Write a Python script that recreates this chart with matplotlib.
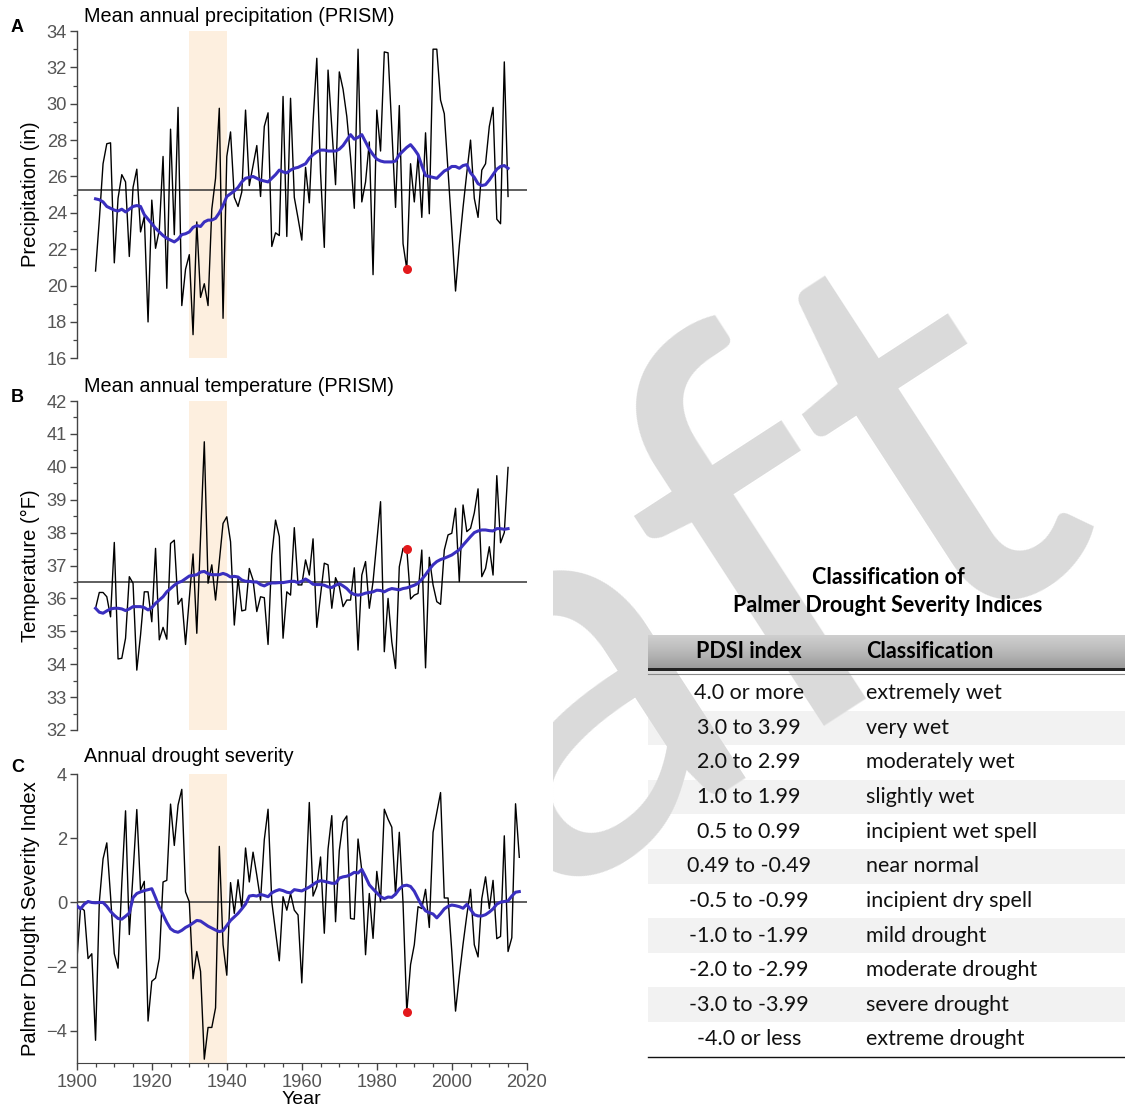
import numpy as np
import matplotlib
matplotlib.use("Agg")
import matplotlib.pyplot as plt
from matplotlib.ticker import MultipleLocator
from matplotlib.patches import Rectangle

# ---------------------------------------------------------------- data
precip_start = 1905
precip = [20.8, 23.6, 26.7, 27.8, 27.85, 21.25, 24.8, 26.1, 25.7, 21.6,
          25.4, 26.4, 22.95, 23.8, 18.0, 24.7, 22.05, 23.05, 27.1, 19.85,
          28.6, 22.8, 29.8, 18.9, 20.9, 21.7, 17.3, 23.5, 19.35, 20.1,
          18.9, 24.2, 25.9, 29.75, 18.2, 27.1, 28.45, 24.85, 24.35, 25.15,
          29.65, 25.5, 26.6, 27.7, 24.9, 28.75, 29.5, 22.15, 22.9, 22.75,
          30.4, 22.7, 30.3, 24.85, 23.7, 22.5, 26.5, 24.55, 29.0, 32.5,
          26.2, 22.1, 31.85, 28.7, 25.55, 31.75, 30.8, 29.3, 27.05, 24.25,
          33.0, 24.6, 25.7, 27.9, 20.6, 29.65, 27.4, 32.85, 32.8, 28.6,
          24.3, 29.9, 22.3, 20.9, 26.7, 24.6, 27.1, 23.75, 28.4, 23.95,
          33.0, 33.0, 30.2, 29.45, 26.3, 23.1, 19.7, 22.2, 24.3, 26.2,
          28.0, 24.8, 23.75, 26.35, 26.7, 28.75, 29.8, 23.65, 23.4, 32.3,
          24.9]
precip_smooth = [24.77, 24.72, 24.6, 24.35, 24.25, 24.15, 24.1, 24.2, 24.05, 24.2,
                 24.35, 24.4, 24.35, 23.9, 23.65, 23.4, 23.15, 22.95, 22.75, 22.6,
                 22.5, 22.4, 22.55, 22.8, 22.85, 22.95, 23.2, 23.3, 23.25, 23.5,
                 23.6, 23.6, 23.7, 24.0, 24.4, 24.9, 25.05, 25.2, 25.4, 25.7,
                 25.9, 25.95, 26.0, 25.9, 25.8, 25.75, 25.7, 25.9, 26.1, 26.35,
                 26.25, 26.2, 26.35, 26.45, 26.5, 26.6, 26.7, 27.0, 27.2, 27.35,
                 27.45, 27.45, 27.4, 27.4, 27.4, 27.5, 27.7, 28.0, 28.3, 28.05,
                 28.15, 28.3, 27.9, 27.5, 27.2, 26.95, 26.85, 26.8, 26.8, 26.8,
                 26.85, 27.2, 27.4, 27.6, 27.75, 27.5, 27.2, 26.6, 26.05, 26.0,
                 25.95, 25.9, 26.1, 26.3, 26.4, 26.55, 26.55, 26.45, 26.6, 26.65,
                 26.2, 25.95, 25.6, 25.5, 25.55, 25.8, 26.1, 26.4, 26.55, 26.6,
                 26.45]
precip_mean = 25.25

temp_start = 1905
temp = [35.7, 36.18, 36.18, 36.05, 35.44, 37.7, 34.16, 34.18, 34.79, 36.66,
        36.46, 33.82, 34.89, 36.2, 36.2, 35.29, 37.52, 34.74, 35.12, 34.76,
        37.67, 37.77, 35.82, 36.0, 34.6, 36.0, 37.35, 34.94, 37.85, 40.76,
        36.46, 37.02, 35.95, 37.12, 38.28, 38.48, 37.72, 35.19, 36.63, 35.62,
        35.65, 36.91, 36.56, 35.6, 36.05, 36.02, 34.6, 37.32, 38.38, 37.88,
        34.79, 36.2, 36.1, 38.15, 36.41, 36.41, 37.17, 36.71, 37.81, 35.12,
        36.1, 37.07, 37.02, 35.7, 36.63, 36.36, 35.75, 35.95, 35.95, 36.93,
        34.43, 36.71, 37.12, 35.7, 36.51, 37.72, 38.94, 34.38, 36.0, 34.68,
        33.87, 36.96, 37.52, 37.5, 35.98, 36.1, 36.15, 37.47, 33.89, 37.25,
        36.41, 35.9, 35.82, 37.47, 37.93, 37.98, 38.74, 36.51, 38.84, 38.03,
        38.13, 38.6, 39.33, 36.66, 36.91, 37.57, 36.71, 39.73, 37.69, 38.0,
        39.98]
temp_smooth = [35.7, 35.58, 35.55, 35.62, 35.68, 35.7, 35.7, 35.68, 35.63, 35.68,
               35.75, 35.75, 35.75, 35.72, 35.65, 35.72, 35.85, 35.95, 36.05, 36.2,
               36.3, 36.4, 36.48, 36.52, 36.6, 36.68, 36.7, 36.72, 36.8, 36.82,
               36.75, 36.72, 36.72, 36.72, 36.76, 36.72, 36.65, 36.67, 36.65, 36.56,
               36.52, 36.52, 36.5, 36.5, 36.42, 36.38, 36.44, 36.47, 36.47, 36.48,
               36.48, 36.5, 36.52, 36.52, 36.48, 36.52, 36.59, 36.52, 36.43, 36.42,
               36.42, 36.4, 36.35, 36.33, 36.4, 36.45, 36.38, 36.3, 36.18, 36.12,
               36.1, 36.12, 36.16, 36.18, 36.2, 36.25, 36.24, 36.2, 36.26, 36.3,
               36.28, 36.26, 36.3, 36.32, 36.36, 36.4, 36.46, 36.58, 36.72, 36.88,
               37.02, 37.12, 37.18, 37.22, 37.27, 37.32, 37.4, 37.48, 37.62, 37.75,
               37.88, 38.0, 38.05, 38.08, 38.08, 38.06, 38.05, 38.12, 38.12, 38.1,
               38.12]
temp_mean = 36.5

pdsi_start = 1900
pdsi = [-1.85, -0.15, -0.25, -1.75, -1.6, -4.3, 0.0, 1.36, 1.86, 0.2,
        -1.6, -2.05, 0.6, 2.86, -1.0, 0.9, 2.9, 0.38, 0.66, -3.7,
        -2.46, -2.36, -1.74, 0.64, 0.69, 3.07, 1.78, 3.04, 3.53, 0.33,
        0.02, -2.38, -1.53, -2.15, -4.89, -3.9, -3.9, -3.29, 1.75, -1.32,
        -2.27, 0.62, -0.34, 0.71, -0.2, 1.7, 0.64, 1.57, 0.85, 0.07,
        1.96, 2.91, 0.02, -0.91, -1.82, 0.18, -0.24, 0.28, -0.24, -0.39,
        -2.51, 0.3, 3.12, 0.2, 0.5, 1.42, -0.96, 1.67, 2.71, -0.6,
        1.62, 2.52, 2.7, -0.5, -0.52, 1.98, 1.0, -1.63, 0.28, -1.12,
        0.97, 0.02, 2.91, 2.6, 2.35, 0.23, 2.19, -0.03, -3.42, -1.94,
        -1.32, -0.13, -0.19, 0.41, -0.78, 2.19, 2.81, 3.43, 0.14, 0.14,
        -1.53, -3.39, -2.3, -1.3, -0.4, 0.41, -1.32, -1.7, 0.12, 0.8,
        -0.19, 0.69, -1.13, -1.06, 2.08, -1.53, -1.1, 3.08, 1.41]
pdsi_smooth = [-0.1, -0.2, -0.05, 0.03, 0.0, -0.01, 0.0, 0.0, -0.12, -0.28,
               -0.4, -0.5, -0.52, -0.43, -0.33, 0.15, 0.28, 0.33, 0.37, 0.4,
               0.43, 0.15, -0.15, -0.38, -0.62, -0.82, -0.9, -0.93, -0.87, -0.78,
               -0.72, -0.64, -0.56, -0.58, -0.66, -0.74, -0.8, -0.86, -0.91, -0.88,
               -0.72, -0.56, -0.45, -0.34, -0.2, -0.05, 0.2, 0.22, 0.2, 0.25,
               0.22, 0.18, 0.3, 0.36, 0.4, 0.37, 0.32, 0.3, 0.4, 0.38,
               0.36, 0.42, 0.48, 0.56, 0.64, 0.68, 0.66, 0.63, 0.6, 0.6,
               0.76, 0.8, 0.82, 0.87, 0.94, 0.92, 1.03, 0.8, 0.55, 0.42,
               0.3, 0.18, 0.12, 0.17, 0.16, 0.26, 0.42, 0.52, 0.54, 0.5,
               0.35, 0.12, -0.1, -0.26, -0.32, -0.36, -0.48, -0.35, -0.2, -0.12,
               -0.08, -0.1, -0.13, -0.18, -0.06, -0.22, -0.38, -0.42, -0.42, -0.38,
               -0.3, -0.2, -0.05, 0.01, 0.03, 0.05, 0.2, 0.32, 0.34]
pdsi_ref = 0.0

dust_bowl = (1930, 1940)
highlight_year = 1988

table_title = ["Classification of", "Palmer Drought Severity Indices"]
table_header = ["PDSI index", "Classification"]
pdsi_ranges = ["4.0 or more", "3.0 to 3.99", "2.0 to 2.99", "1.0 to 1.99",
               "0.5 to 0.99", "0.49 to -0.49", "-0.5 to -0.99", "-1.0 to -1.99",
               "-2.0 to -2.99", "-3.0 to -3.99", "-4.0 or less"]
pdsi_classes = ["extremely wet", "very wet", "moderately wet", "slightly wet",
                "incipient wet spell", "near normal", "incipient dry spell",
                "mild drought", "moderate drought", "severe drought",
                "extreme drought"]
watermark = "aft"

# ---------------------------------------------------------------- figure
W, H = 1125, 1112
fig = plt.figure(figsize=(W / 100, H / 100), dpi=100)
fig.patch.set_facecolor("white")
plt.rcParams["font.family"] = ["Liberation Sans", "DejaVu Sans"]

TICK_GRAY = "#555555"
SPINE = "#444444"
BLUE = "#3a2fbf"
TICK_FS = 13.2


def fx(x):
    return x / W


def fy(y):
    return 1 - y / H


def box(left, top, right, bottom):
    return [fx(left), fy(bottom), fx(right) - fx(left), fy(top) - fy(bottom)]


# background layer in pixel coordinates (watermark + table)
ov = fig.add_axes([0, 0, 1, 1])
ov.set_xlim(0, W)
ov.set_ylim(H, 0)
ov.axis("off")

ov.text(1108, 530, watermark, rotation=33, rotation_mode="anchor",
        ha="right", va="baseline", fontsize=405, family=["Lato", "DejaVu Sans"],
        color="#dadada", zorder=2.5)
# the chart block sits on an opaque white card
ov.add_patch(Rectangle((0, 0), 553, H, color="white", lw=0, zorder=2.7))

AX_L, AX_R = 76.8, 526.8
axA = fig.add_axes(box(AX_L, 31.0, AX_R, 358.3))
axB = fig.add_axes(box(AX_L, 401.0, AX_R, 730.0))
axC = fig.add_axes(box(AX_L, 774.3, AX_R, 1062.7))


def draw_panel(ax, start, values, smooth, ref, ylim, major, minor):
    yrs = np.arange(start, start + len(values))
    yrs_s = np.arange(start, start + len(smooth))
    ax.axvspan(*dust_bowl, color="#fdefdf", lw=0, zorder=0)
    ax.axhline(ref, color="#333333", lw=1.1, zorder=1)
    ax.plot(yrs, values, color="black", lw=1.0, zorder=2)
    ax.plot(yrs_s, smooth, color=BLUE, lw=2.2, zorder=3,
            solid_joinstyle="round")
    v = values[highlight_year - start]
    ax.plot([highlight_year], [v], "o", color="#e3191c", ms=6.5, mec="none",
            zorder=4)
    ax.set_xlim(1900, 2020)
    ax.set_ylim(*ylim)
    ax.yaxis.set_major_locator(MultipleLocator(major))
    if minor:
        ax.yaxis.set_minor_locator(MultipleLocator(minor))
    for s in ("top", "right"):
        ax.spines[s].set_visible(False)
    ax.spines["left"].set_color(SPINE)
    ax.spines["left"].set_linewidth(1.0)
    ax.tick_params(axis="y", which="major", length=5, width=1, color=SPINE,
                   labelcolor=TICK_GRAY, labelsize=TICK_FS, pad=2)
    ax.tick_params(axis="y", which="minor", length=3, width=0.9, color=SPINE)
    ax.set_facecolor("none")


draw_panel(axA, precip_start, precip, precip_smooth, precip_mean,
           (16, 34), 2, 1)
draw_panel(axB, temp_start, temp, temp_smooth, temp_mean, (32, 42), 1, 0.5)
draw_panel(axC, pdsi_start, pdsi, pdsi_smooth, pdsi_ref, (-5, 4), 2, None)
axC.set_yticks([-4, -2, 0, 2, 4])
axC.set_yticklabels(["\u22124", "\u22122", "0", "2", "4"])

for ax in (axA, axB):
    ax.spines["bottom"].set_visible(False)
    ax.set_xticks([])

axC.spines["bottom"].set_color(SPINE)
axC.xaxis.set_major_locator(MultipleLocator(20))
axC.xaxis.set_minor_locator(MultipleLocator(5))
axC.tick_params(axis="x", which="major", length=5, width=1, color=SPINE,
                labelcolor=TICK_GRAY, labelsize=TICK_FS, pad=3)
axC.tick_params(axis="x", which="minor", length=3, width=0.9, color=SPINE)
axC.set_xlabel("Year", fontsize=14, labelpad=0)

ylabels = [(axA, "Precipitation (in)"), (axB, "Temperature (\u00b0F)"),
           (axC, "Palmer Drought Severity Index")]
for ax, lab in ylabels:
    ax.set_ylabel(lab, fontsize=14.5)
    ax.yaxis.set_label_coords((40 - AX_L) / (AX_R - AX_L), 0.5)

titles = [("A", "Mean annual precipitation (PRISM)", 28, 16),
          ("B", "Mean annual temperature (PRISM)", 397, 386),
          ("C", "Annual drought severity", 767, 757)]
for letter, title, ly, ty in titles:
    fig.text(fx(11), fy(ly), letter, fontsize=13, fontweight="bold",
             va="center", ha="left")
    fig.text(fx(84), fy(ty), title, fontsize=14.3, va="center", ha="left")

# ---------------------------------------------------------------- table
T_L, T_R = 648, 1125
HEAD_TOP, HEAD_BOT = 635, 668
ROW0, ROW_H = 676, 34.6
COL1_C, COL2_L = 749, 866
TFONT = ["Lato", "DejaVu Sans"]

for i in range(len(pdsi_ranges)):
    top = ROW0 + i * ROW_H
    if i % 2 == 1:
        ov.add_patch(Rectangle((T_L, top), T_R - T_L, ROW_H,
                               color="#f2f2f2", lw=0, zorder=2))
    yc = top + ROW_H / 2
    ov.text(COL1_C, yc, pdsi_ranges[i], ha="center", va="center",
            fontsize=15.5, family=TFONT, color="#111111", zorder=5)
    ov.text(COL2_L, yc, pdsi_classes[i], ha="left", va="center",
            fontsize=15.5, family=TFONT, color="#111111", zorder=5)

grad = np.linspace(0, 1, 50).reshape(-1, 1)
ov.imshow(grad, extent=(T_L, T_R, HEAD_BOT, HEAD_TOP), cmap="Greys",
          vmin=-1.6, vmax=3.8, aspect="auto", zorder=3)
ov.add_patch(Rectangle((T_L, HEAD_BOT), T_R - T_L, 3, color="#222222",
                       lw=0, zorder=3.1))
ov.plot([T_L, T_R], [HEAD_BOT + 5.5, HEAD_BOT + 5.5], color="#8a8a8a",
        lw=0.8, zorder=3.1)
bottom = ROW0 + len(pdsi_ranges) * ROW_H + 0.5
ov.plot([T_L, T_R], [bottom, bottom], color="#111111", lw=1.0, zorder=3.1)

ov.text(COL1_C, (HEAD_TOP + HEAD_BOT) / 2, table_header[0], ha="center",
        va="center", fontsize=15.5, fontweight="bold", family=TFONT, zorder=5)
ov.text(COL2_L, (HEAD_TOP + HEAD_BOT) / 2, table_header[1], ha="left",
        va="center", fontsize=15.5, fontweight="bold", family=TFONT, zorder=5)
ov.text(888, 577, table_title[0], ha="center", va="center", fontsize=15.5,
        fontweight="bold", family=TFONT, zorder=5)
ov.text(888, 606, table_title[1], ha="center", va="center", fontsize=15.5,
        fontweight="bold", family=TFONT, zorder=5)

fig.savefig("out.png", dpi=100, facecolor="white")
